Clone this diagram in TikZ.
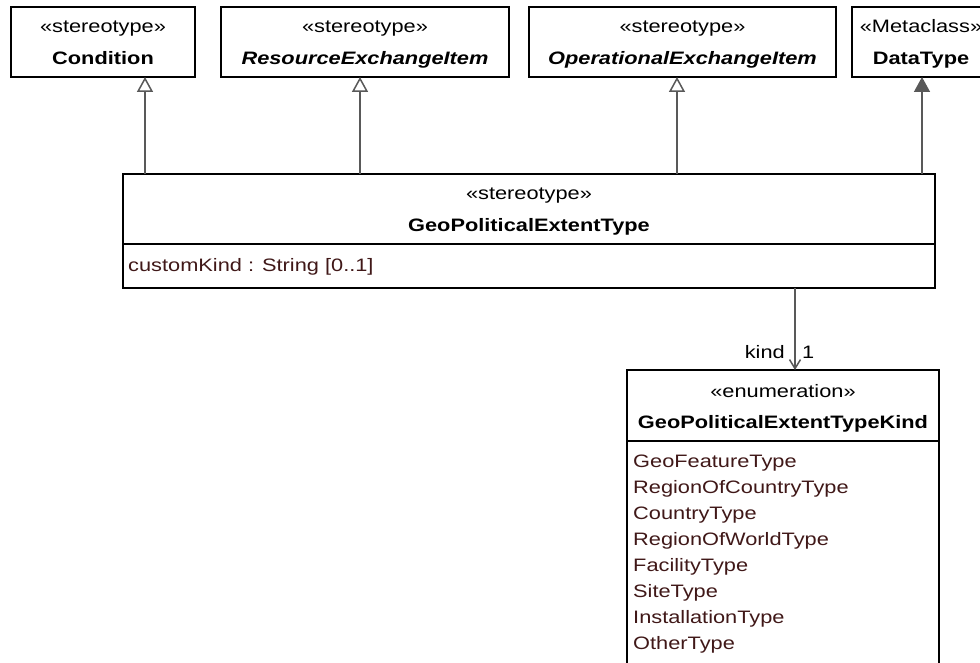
\documentclass[tikz,border=0pt]{standalone}
\usepackage{fontspec}
\setmainfont{Liberation Sans}[FakeStretch=1.21]
\usetikzlibrary{arrows.meta,positioning}

\begin{document}
\begin{tikzpicture}[x=1pt,y=-1pt]
  % Colors
  \definecolor{attrcolor}{RGB}{64,24,24}
  \colorlet{linecolor}{black!65}

  % Styles
  \tikzstyle{umlbox}=[draw=black,line width=1.5pt,fill=white,inner sep=0pt,outer sep=0pt]
  \tikzstyle{umltext}=[font=\fontsize{18}{26}\selectfont,inner sep=0pt,anchor=base]
  \tikzstyle{attrtext}=[umltext,anchor=base west,text=attrcolor]
  \tikzstyle{generalization}=[draw=linecolor,line width=1.5pt,-{Triangle[open,length=15pt,width=16pt,fill=white]}]
  \tikzstyle{extension}=[draw=linecolor,fill=linecolor,line width=1.5pt,-{Triangle[length=15pt,width=16pt]}]
  \tikzstyle{association}=[draw=linecolor,line width=1.5pt,-{Straight Barb[length=9pt,width=11pt]}]

  \useasboundingbox (0,0) rectangle (980,663);
  \clip (0,0) rectangle (980,663);
  \fill[white] (0,0) rectangle (980,663);

  % The stereotypes on top
  \node[umlbox,minimum width=184,minimum height=70] (cond) at (103,42) {};
  \node[umltext] at ([yshift=-26pt]cond.north) {«stereotype»};
  \node[umltext] at ([yshift=-58pt]cond.north) {\textbf{Condition}};

  \node[umlbox,minimum width=288,minimum height=70] (res) at (365,42) {};
  \node[umltext] at ([yshift=-26pt]res.north) {«stereotype»};
  \node[umltext] at ([yshift=-58pt]res.north) {\textbf{\textit{ResourceExchangeItem}}};

  \node[umlbox,minimum width=307,minimum height=70] (op) at (682.5,42) {};
  \node[umltext] at ([yshift=-26pt]op.north) {«stereotype»};
  \node[umltext] at ([yshift=-58pt]op.north) {\textbf{\textit{OperationalExchangeItem}}};

  \node[umlbox,minimum width=138,minimum height=70] (dt) at (921,42) {};
  \node[umltext] at ([yshift=-26pt]dt.north) {«Metaclass»};
  \node[umltext] at ([yshift=-58pt]dt.north) {\textbf{DataType}};

  % The stereotype itself
  \node[umlbox,minimum width=812,minimum height=70] (main) at (529,209) {};
  \node[umltext] at ([yshift=-26pt]main.north) {«stereotype»};
  \node[umltext] at ([yshift=-58pt]main.north) {\textbf{GeoPoliticalExtentType}};
  \node[umlbox,minimum width=812,minimum height=44,below=0pt of main] (mainattr) {};
  \node[attrtext] at ([xshift=5pt,yshift=-28pt]mainattr.north west) {customKind : String [0..1]};

  % The enumeration
  \node[umlbox,minimum width=312,minimum height=71] (enum) at (783,405.5) {};
  \node[umltext] at ([yshift=-27pt]enum.north) {«enumeration»};
  \node[umltext] at ([yshift=-58pt]enum.north) {\textbf{GeoPoliticalExtentTypeKind}};
  \node[umlbox,minimum width=312,minimum height=260,below=0pt of enum] (enumlits) {};
  \node[attrtext] at ([xshift=6pt,yshift=-26pt]enumlits.north west) {GeoFeatureType};
  \node[attrtext] at ([xshift=6pt,yshift=-52pt]enumlits.north west) {RegionOfCountryType};
  \node[attrtext] at ([xshift=6pt,yshift=-78pt]enumlits.north west) {CountryType};
  \node[attrtext] at ([xshift=6pt,yshift=-104pt]enumlits.north west) {RegionOfWorldType};
  \node[attrtext] at ([xshift=6pt,yshift=-130pt]enumlits.north west) {FacilityType};
  \node[attrtext] at ([xshift=6pt,yshift=-156pt]enumlits.north west) {SiteType};
  \node[attrtext] at ([xshift=6pt,yshift=-182pt]enumlits.north west) {InstallationType};
  \node[attrtext] at ([xshift=6pt,yshift=-208pt]enumlits.north west) {OtherType};

  % Generalizations
  \coordinate (condgen) at ([xshift=42pt]cond.south);
  \coordinate (resgen) at ([xshift=-5pt]res.south);
  \coordinate (opgen) at ([xshift=-5.5pt]op.south);
  \coordinate (dtgen) at ([xshift=1pt]dt.south);
  \draw[generalization] (condgen |- main.north) -- (condgen);
  \draw[generalization] (resgen |- main.north) -- (resgen);
  \draw[generalization] (opgen |- main.north) -- (opgen);
  \draw[extension] (dtgen |- main.north) -- (dtgen);

  % Association
  \coordinate (kindstart) at ([xshift=266pt]mainattr.south);
  \coordinate (kindtip) at (kindstart |- enum.north);
  \draw[association] (kindstart) -- (kindtip);
  \node[umltext,anchor=base east] (kindrole) at ([xshift=-10pt,yshift=12pt]kindtip) {kind};
  \node[umltext,anchor=base west] (kindmult) at ([xshift=7pt,yshift=12pt]kindtip) {1};
\end{tikzpicture}
\end{document}
